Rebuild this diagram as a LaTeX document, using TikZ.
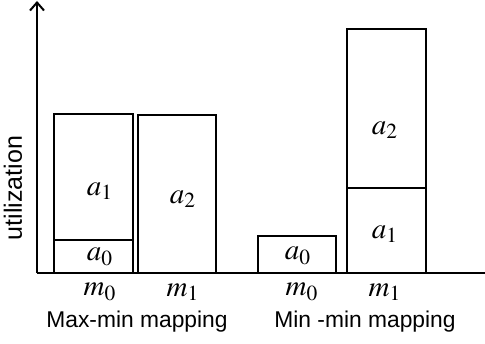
\documentclass[tikz,border=0pt]{standalone}
\usepackage{mathptmx}
\usepackage{fontspec}
\setmainfont{Liberation Sans}
\usetikzlibrary{arrows.meta}

\begin{document}
\begin{tikzpicture}[line cap=butt,line join=miter,x=0.5pt,y=0.5pt,
    bar/.style={line width=1pt},
    lab/.style={font=\fontsize{14.5}{16}\selectfont,inner sep=0pt}]
		\useasboundingbox (-37,-70) rectangle (448,273);
		% axes
		\coordinate (o) at (0,0);
		\coordinate (ytop) at (0,272);
		\coordinate (xend) at (448,0);
		\draw [line width=1pt,-{Straight Barb[length=4pt,width=7pt]}] (o)-- (ytop);
		\draw [line width=1pt] (o)-- (xend);
		% Max-min mapping
		\draw [bar] (17,0) rectangle (96,33);
		\draw [bar] (17,33) rectangle (96,159);
		\draw [bar] (101,0) rectangle (179,158);
		% Min-min mapping
		\draw [bar] (221,0) rectangle (299,37);
		\draw [bar] (310,0) rectangle (389,85);
		\draw [bar] (310,85) rectangle (389,244);
		\node[lab] (maxa0) at (63,16) {$a_0$};
		\node[lab] (maxa1) at (63,82) {$a_1$};
		\node[lab] (maxa2) at (146,74) {$a_2$};
		\node[lab] (mina0) at (261,17) {$a_0$};
		\node[lab] (mina1) at (348,39) {$a_1$};
		\node[lab] (mina2) at (348,143) {$a_2$};
		\node[lab] (maxm0) at (63,-19) {$m_0$};
		\node[lab] (maxm1) at (146,-19) {$m_1$};
		\node[lab] (minm0) at (265,-19) {$m_0$};
		\node[lab] (minm1) at (348,-19) {$m_1$};
		\node[lab,font=\fontsize{11.4}{13}\selectfont] (maxcap) at (100,-49) {Max-min mapping};
		\node[lab,font=\fontsize{11.4}{13}\selectfont] (mincap) at (328,-49) {Min -min mapping};
		\node[lab,font=\fontsize{12.5}{14}\selectfont,rotate=90] (ylab) at (-24,85) {utilization};
\end{tikzpicture}
\end{document}
